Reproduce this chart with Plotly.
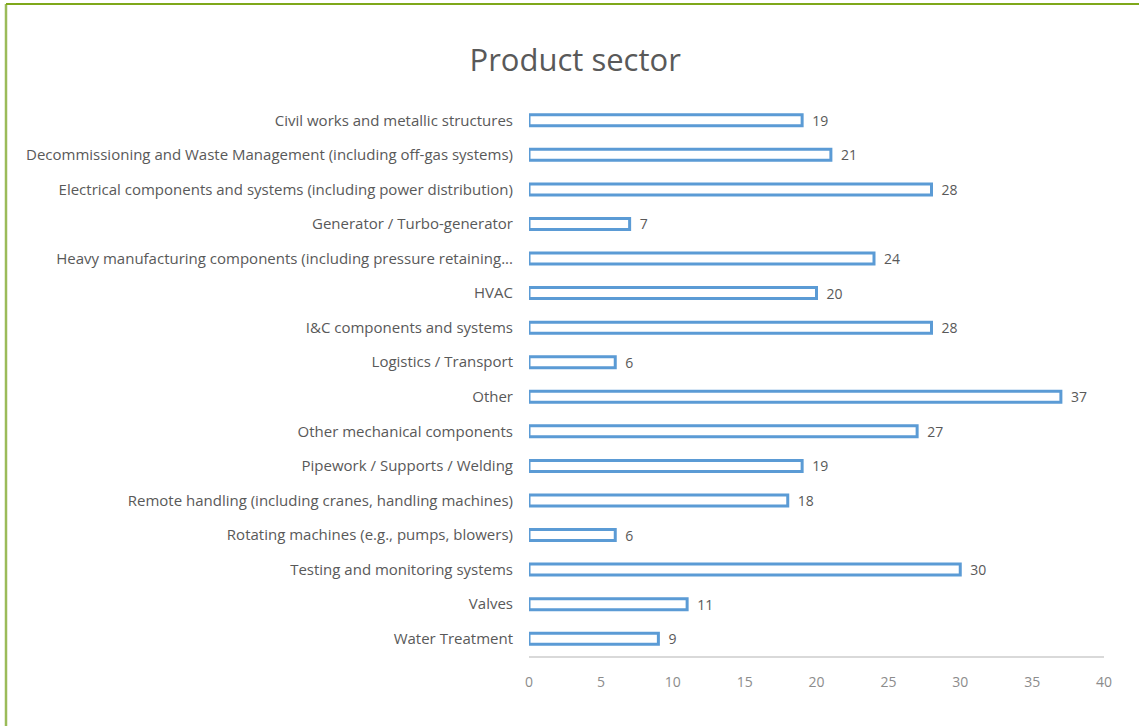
import plotly.graph_objects as go

categories = [
    "Civil works and metallic structures",
    "Decommissioning and Waste Management (including off-gas systems)",
    "Electrical components and systems (including power distribution)",
    "Generator / Turbo-generator",
    "Heavy manufacturing components (including pressure retaining...",
    "HVAC",
    "I&C components and systems",
    "Logistics / Transport",
    "Other",
    "Other mechanical components",
    "Pipework / Supports / Welding",
    "Remote handling (including cranes, handling machines)",
    "Rotating machines (e.g., pumps, blowers)",
    "Testing and monitoring systems",
    "Valves",
    "Water Treatment",
]
values = [19, 21, 28, 7, 24, 20, 28, 6, 37, 27, 19, 18, 6, 30, 11, 9]
x_ticks = [0, 5, 10, 15, 20, 25, 30, 35, 40]

FONT = "Open Sans"
GRAY = "#595959"

L, R, T, B = 529, 35, 103, 70
W, H = 1139, 726
PW, PH = W - L - R, H - T - B

fig = go.Figure()
fig.add_trace(go.Bar(
    y=categories,
    x=values,
    orientation="h",
    width=0.32,
    marker=dict(color="white", line=dict(color="#5B9BD5", width=3)),
    text=values,
    texttemplate="\u2002%{text}",
    textposition="outside",
    constraintext="none",
    textfont=dict(family=FONT, size=14, color=GRAY),
    cliponaxis=False,
))

fig.update_layout(
    width=W, height=H,
    paper_bgcolor="white", plot_bgcolor="white",
    margin=dict(l=L, r=R, t=T, b=B),
    title=dict(text="Product sector", x=0.505, xanchor="center", y=0.917, yanchor="middle",
               font=dict(family=FONT, size=31, color=GRAY)),
    showlegend=False,
    xaxis=dict(range=[0, 40], tickvals=x_ticks, showgrid=False, zeroline=False,
               showline=True, linecolor="#D9D9D9", linewidth=1.5,
               tickfont=dict(family=FONT, size=14, color="#8C8C8C"), ticks="", ticklabelstandoff=12),
    yaxis=dict(categoryorder="array", categoryarray=categories, autorange="reversed",
               showgrid=False, zeroline=False, showline=False, ticks="",
               tickfont=dict(family=FONT, size=15, color=GRAY), ticklabelstandoff=15),
    shapes=[
        dict(type="line", xref="paper", yref="paper",
             x0=(6 - L) / PW, x1=(6 - L) / PW, y0=-B / PH, y1=1 + (T - 4) / PH,
             line=dict(color="#9BBB59", width=2.5)),
        dict(type="line", xref="paper", yref="paper",
             x0=(6 - L) / PW, x1=1 + R / PW, y0=1 + (T - 4) / PH, y1=1 + (T - 4) / PH,
             line=dict(color="#7FA81A", width=2)),
    ],
)

fig.write_html("out.html")
